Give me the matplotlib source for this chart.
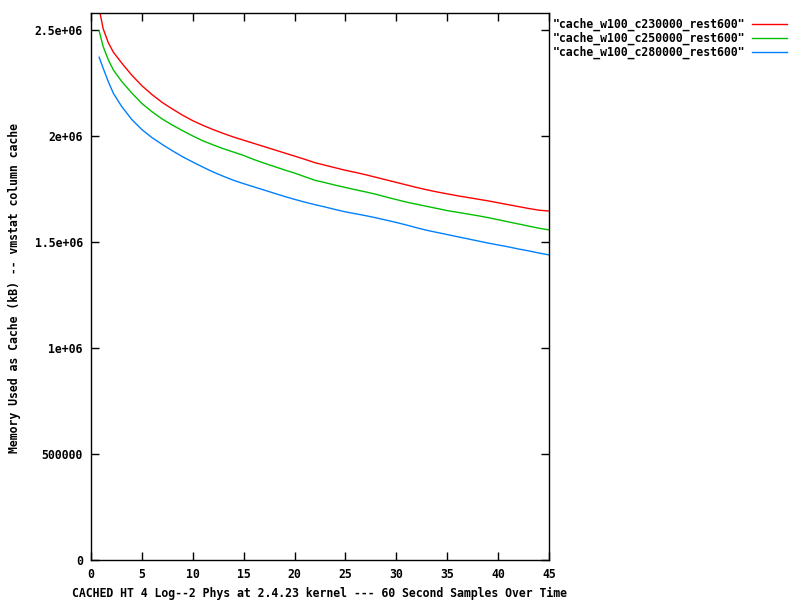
import matplotlib as mpl
mpl.use('Agg')
import matplotlib.pyplot as plt
from matplotlib.lines import Line2D

# sample positions (minutes) and cache usage in kB
x = [0.8, 1.2, 1.7, 2.2, 3, 4, 5, 6, 7, 8, 9, 10, 11, 12, 13, 14, 15, 16,
     17, 18, 19, 20, 21, 22, 23, 24, 25, 26, 27, 28, 29, 30, 31, 32, 33,
     34, 35, 36, 37, 38, 39, 40, 41, 42, 43, 44, 45]

c230000 = [2600, 2505, 2440, 2395, 2345, 2287, 2237, 2195, 2158, 2127, 2098,
           2072, 2050, 2030, 2012, 1995, 1980, 1965, 1950, 1935, 1920, 1905,
           1890, 1874, 1862, 1850, 1838, 1828, 1817, 1805, 1793, 1781, 1769,
           1757, 1746, 1736, 1727, 1718, 1710, 1702, 1694, 1685, 1676, 1667,
           1658, 1650, 1646]
c250000 = [2495, 2421, 2359, 2311, 2258, 2203, 2153, 2114, 2080, 2051, 2025,
           2000, 1977, 1958, 1940, 1924, 1908, 1889, 1872, 1856, 1840, 1825,
           1808, 1791, 1780, 1768, 1757, 1746, 1736, 1725, 1712, 1700, 1688,
           1678, 1668, 1658, 1648, 1640, 1632, 1624, 1615, 1605, 1595, 1585,
           1575, 1565, 1557]
c280000 = [2371, 2319, 2256, 2201, 2140, 2078, 2030, 1992, 1960, 1930, 1902,
           1877, 1853, 1830, 1810, 1791, 1775, 1760, 1745, 1730, 1715, 1701,
           1688, 1676, 1665, 1653, 1642, 1633, 1624, 1614, 1603, 1592, 1580,
           1567, 1555, 1545, 1535, 1525, 1515, 1505, 1495, 1486, 1477, 1467,
           1458, 1448, 1439]

labels = ['"cache_w100_c230000_rest600"',
          '"cache_w100_c250000_rest600"',
          '"cache_w100_c280000_rest600"']
colors = ['#ff0000', '#00c000', '#0080ff']

yticks = [0, 500000, 1000000, 1500000, 2000000, 2500000]
yticklabels = ['0', '500000', '1e+06', '1.5e+06', '2e+06', '2.5e+06']

font = {'family': 'DejaVu Sans Mono', 'weight': 'bold', 'size': 8.3}
plt.rc('font', **font)

fig = plt.figure(figsize=(8, 6), dpi=100)
ax = fig.add_axes([91 / 800, 40 / 600, 458 / 800, 547 / 600])

series = [c230000, c250000, c280000]
for vals, col in zip(series, colors):
  ax.plot(x, [v * 1000 for v in vals], color=col, linewidth=1)

ax.set_xlim(0, 45)
ax.set_ylim(0, 2580000)
ax.set_xticks(range(0, 46, 5))
ax.set_yticks(yticks)
ax.set_yticklabels(yticklabels)
ax.tick_params(direction='in', length=6, width=1, top=True, right=True,
               labelsize=8.3, pad=6)
for sp in ax.spines.values():
  sp.set_linewidth(1)

fig.text(15 / 800, 1 - 288 / 600,
         'Memory Used as Cache (kB) -- vmstat column cache',
         rotation=90, ha='center', va='center')
fig.text(319 / 800, 1 - 593 / 600,
         'CACHED HT 4 Log--2 Phys at 2.4.23 kernel --- 60 Second Samples Over Time',
         ha='center', va='center')

# gnuplot style key outside the plot, right side
for i, (lab, col) in enumerate(zip(labels, colors)):
  yy = 1 - (24 + 14 * i) / 600
  fig.text(745 / 800, yy, lab, ha='right', va='center')
  fig.add_artist(Line2D([752 / 800, 787 / 800], [yy, yy], color=col,
                        linewidth=1, transform=fig.transFigure))

plt.savefig('out.png', format='png')
